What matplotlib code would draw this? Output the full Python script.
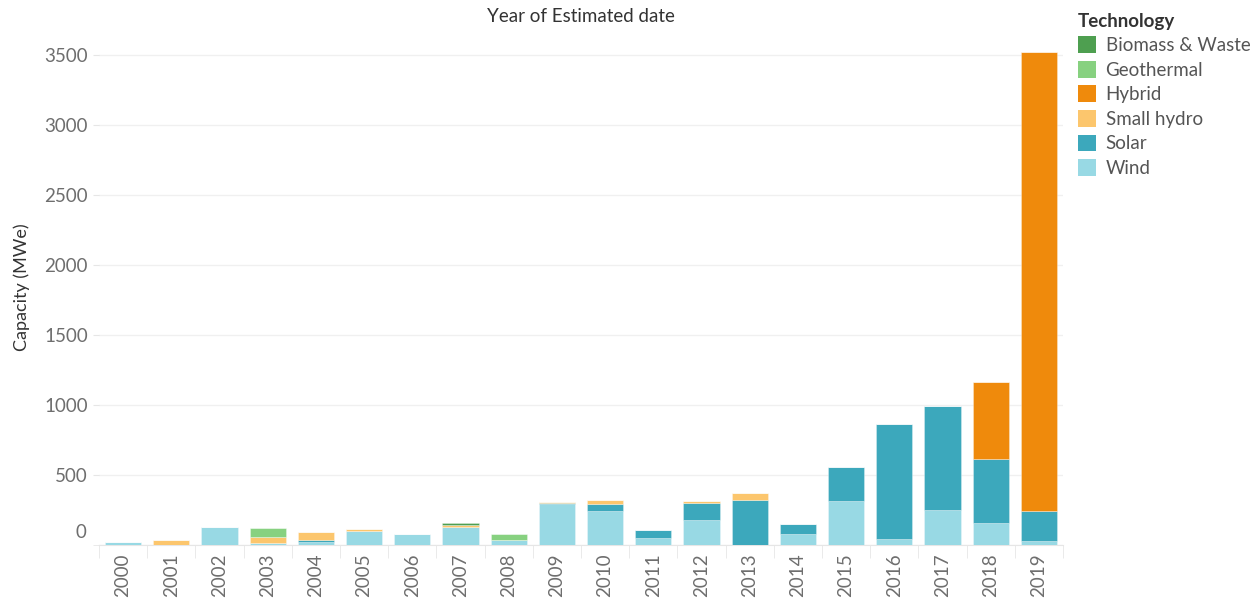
import matplotlib
matplotlib.use("Agg")
import matplotlib.pyplot as plt
import numpy as np
from matplotlib.patches import Patch
from matplotlib.transforms import blended_transform_factory, offset_copy

plt.rcParams['font.family'] = ['Lato', 'DejaVu Sans']

years = [str(y) for y in range(2000, 2020)]
wind        = [18, 0, 131, 12, 24, 102, 79, 129, 36, 295, 241, 52, 181, 0, 76, 312, 43, 250, 155, 29]
solar       = [0, 0, 0, 0, 10, 0, 0, 0, 0, 6, 52, 52, 121, 319, 71, 243, 821, 743, 460, 214]
small_hydro = [0, 36, 0, 47, 62, 12, 0, 14, 0, 7, 26, 0, 10, 52, 0, 0, 0, 0, 0, 0]
hybrid      = [0, 0, 0, 0, 0, 0, 0, 0, 0, 0, 0, 0, 0, 0, 0, 0, 0, 0, 549, 3278]
geothermal  = [0, 0, 0, 62, 0, 0, 0, 0, 43, 0, 0, 0, 0, 0, 0, 0, 0, 0, 0, 0]
biomass     = [0, 0, 0, 0, 0, 0, 0, 12, 0, 0, 0, 0, 0, 0, 0, 0, 0, 0, 0, 0]

legend_names = ["Biomass & Waste", "Geothermal", "Hybrid", "Small hydro", "Solar", "Wind"]
colors = {"Biomass & Waste": "#4e9f50", "Geothermal": "#87d180", "Hybrid": "#ef8a0c",
          "Small hydro": "#fcc66d", "Solar": "#3ca8bc", "Wind": "#98d9e4"}
# stacking order bottom -> top
stack = [("Wind", wind), ("Solar", solar), ("Small hydro", small_hydro),
         ("Hybrid", hybrid), ("Geothermal", geothermal), ("Biomass & Waste", biomass)]

fig = plt.figure(figsize=(12.57, 5.99), dpi=100)
ax = fig.add_axes([99/1257, 1-545/599, (1063-99)/1257, (545-30)/599])

x = np.arange(len(years))
bottom = np.zeros(len(years))
for name, vals in stack:
    v = np.array(vals, dtype=float)
    ax.bar(x, v, width=0.75, bottom=bottom, color=colors[name],
           edgecolor=(1, 1, 1, 0.35), linewidth=0.6, zorder=3)
    bottom += v

ax.set_xlim(-0.5, len(years) - 0.5)
ax.set_ylim(0, 3680)
ax.set_yticks([500, 1000, 1500, 2000, 2500, 3000, 3500])
ax.set_yticks([0], minor=True)
ax.yaxis.grid(True, which='both', color='#f0f0f0', linewidth=1, zorder=0)
ax.tick_params(axis='y', which='both', colors='#e6e6e6', labelcolor='#6e6e6e',
               labelsize=13.5, length=4, pad=4)
ax.set_xticks(x)
ax.set_xticklabels(years, rotation=90, fontsize=13.5, color='#6e6e6e')
ax.set_xticks(np.arange(-0.5, len(years), 1), minor=True)
ax.tick_params(axis='x', which='major', length=0, pad=6)
ax.tick_params(axis='x', which='minor', length=9, color='#e6e6e6')

for s in ['top', 'right', 'left']:
    ax.spines[s].set_visible(False)
ax.spines['bottom'].set_color('#e6e6e6')

# zero label (shifted up as in reference)
tr = blended_transform_factory(ax.transAxes, ax.transData)
ax.text(-0.013, 0, "0", transform=offset_copy(tr, fig=fig, x=0, y=12, units='dots'),
        ha='right', va='center', fontsize=13.5, color='#6e6e6e')

ax.set_ylabel("Capacity (MWe)", fontsize=13, color='#333333', labelpad=10)
fig.text(581/1257, 1-17/599, "Year of Estimated date", ha='center', va='center',
         fontsize=13.5, color='#333333')

handles = [Patch(facecolor=colors[n], edgecolor='none') for n in legend_names]
leg = fig.legend(handles, legend_names, title="Technology", loc='upper left',
                 bbox_to_anchor=(1070/1257, 1-5/599), frameon=False,
                 fontsize=13.5, title_fontsize=13.5, handlelength=1.0, handleheight=1.0,
                 handletextpad=0.5, labelspacing=0.36, borderaxespad=0, alignment='left')
for t in leg.get_texts():
    t.set_color('#555555')
leg.get_title().set_color('#333333')
leg.get_title().set_fontweight('bold')

fig.savefig("out.png", dpi=100)
